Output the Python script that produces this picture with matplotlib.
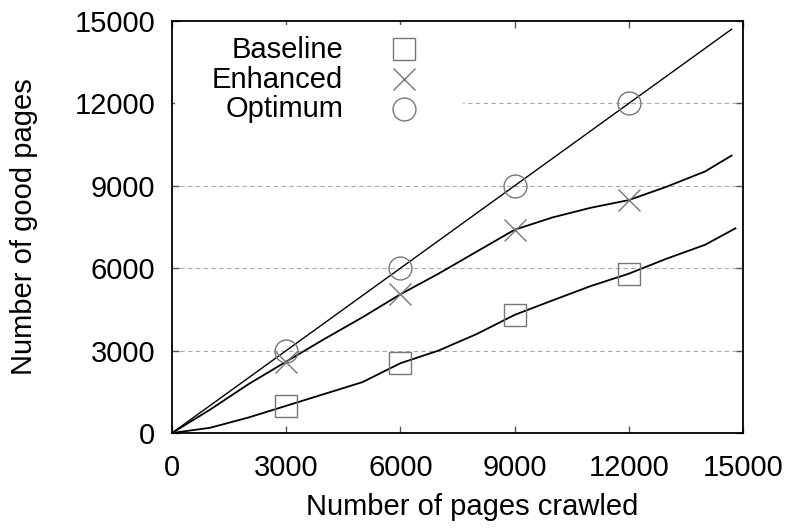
import numpy as np
import matplotlib.pyplot as plt
from matplotlib.patches import Rectangle

plt.rcParams['font.family'] = ['Liberation Sans', 'DejaVu Sans']

# pages crawled vs good pages found, per crawler strategy
crawled = [0, 1000, 2000, 3000, 4000, 5000, 6000, 7000, 8000, 9000,
           10000, 11000, 12000, 13000, 14000, 14800]
baseline = [0, 190, 560, 990, 1420, 1850, 2540, 3000, 3600, 4300,
            4830, 5350, 5800, 6350, 6850, 7450]

crawled_enh = [0, 1000, 2000, 3000, 4000, 5000, 6000, 7000, 8000, 9000,
               10000, 11000, 12000, 13000, 14000, 14700]
enhanced = [0, 850, 1770, 2600, 3420, 4210, 5050, 5800, 6600, 7400,
            7850, 8200, 8480, 8970, 9520, 10100]

crawled_opt = [0, 3000, 6000, 9000, 12000, 14700]
optimum = [0, 3000, 6000, 9000, 12000, 14700]

mark_at = [3000, 6000, 9000, 12000]

ticks = [0, 3000, 6000, 9000, 12000, 15000]

FS = 21
MS = 16.5
MARK_COLOR = '#777777'

fig = plt.figure(figsize=(7.9, 5.29), dpi=100)
ax = fig.add_axes([172 / 790, 1 - 433 / 529, 571 / 790, 412 / 529])

series = [
    ('Baseline', crawled, baseline, 's', 1.3),
    ('Enhanced', crawled_enh, enhanced, 'x', 1.3),
    ('Optimum', crawled_opt, optimum, 'o', 1.0),
]

for name, xs, ys, marker, lw in series:
    xs = np.asarray(xs)
    ax.plot(xs, ys, color='black', lw=lw, zorder=3)
    every = np.isin(xs, mark_at)
    ax.plot(xs, ys, linestyle='none', marker=marker, markevery=list(every),
            markersize=MS, markerfacecolor='none', markeredgecolor=MARK_COLOR,
            markeredgewidth=1.0, zorder=4)

# key: right-aligned names with the sample marker to their right,
# on a white patch that blanks the grid behind it
ax.add_patch(Rectangle((0.005, 0.74), 0.505, 0.25, transform=ax.transAxes,
                       facecolor='white', edgecolor='none', zorder=2))
key_text_y = [0.9102, 0.8374, 0.767]
key_mark_y = [0.932, 0.859, 0.786]
for (name, _, _, marker, _), ty, my in zip(series, key_text_y, key_mark_y):
    ax.text(0.2995, ty, name, transform=ax.transAxes, ha='right',
            va='baseline', fontsize=FS, zorder=5)
    ax.plot([0.4063], [my], transform=ax.transAxes, linestyle='none',
            marker=marker, markersize=MS, markerfacecolor='none',
            markeredgecolor=MARK_COLOR, markeredgewidth=1.0, zorder=5,
            clip_on=False)

ax.set_xlim(0, 15000)
ax.set_ylim(0, 15000)
ax.set_xticks(ticks)
ax.set_yticks(ticks)
ax.tick_params(direction='in', length=5, width=1, top=True, right=True,
               labelsize=FS, color='#555555')
ax.tick_params(axis='x', pad=15)
ax.tick_params(axis='y', pad=12)

for y in ticks[1:-1]:
    ax.axhline(y, color='#aaaaaa', lw=0.8, linestyle=(0, (4, 3)), zorder=1)

for sp in ax.spines.values():
    sp.set_linewidth(1.3)

ax.set_xlabel('Number of pages crawled', fontsize=FS)
ax.set_ylabel('Number of good pages', fontsize=FS)
ax.xaxis.set_label_coords(0.525, -0.146)
ax.yaxis.set_label_coords(-0.235, 0.5)

fig.savefig('out.png', dpi=100)
